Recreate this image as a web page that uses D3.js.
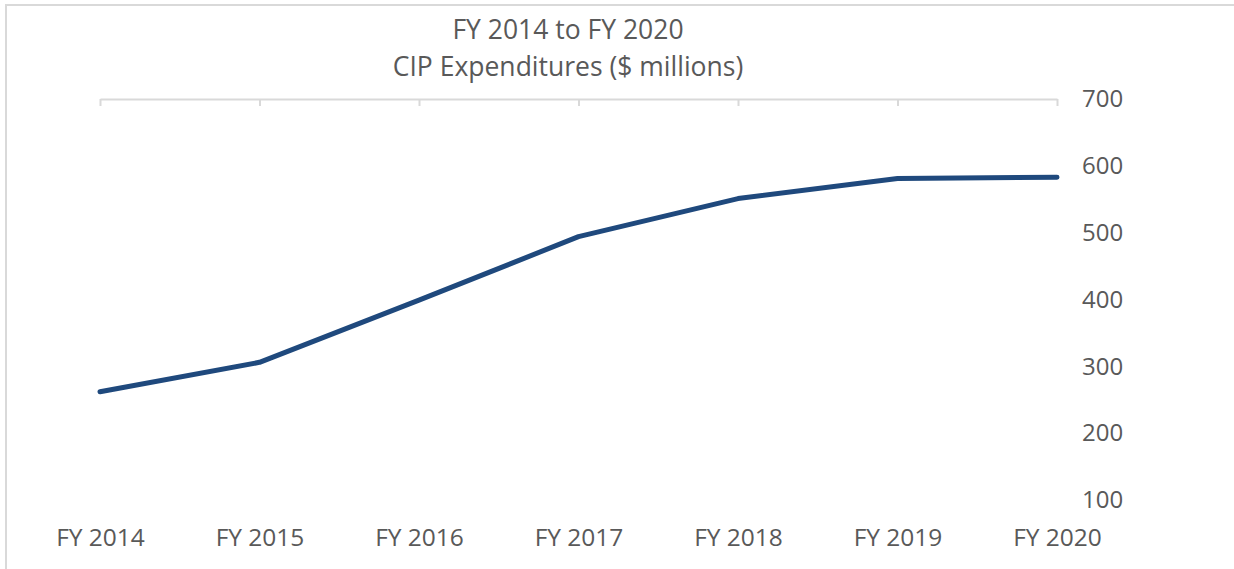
<!DOCTYPE html>
<html>
<head>
<meta charset="utf-8">
<script src="https://cdn.jsdelivr.net/npm/d3@7"></script>
<style>
  html, body { margin: 0; padding: 0; background: #fff; }
  svg { display: block; font-family: "Open Sans", sans-serif; }
</style>
</head>
<body>
<svg id="chart" width="1234" height="569"></svg>
<script>
const categories = ["FY 2014", "FY 2015", "FY 2016", "FY 2017", "FY 2018", "FY 2019", "FY 2020"];
const values = [262, 306, 399, 494, 551, 581, 583];
const yTicks = [100, 200, 300, 400, 500, 600, 700];
const titleLines = ["FY 2014 to FY 2020", "CIP Expenditures ($ millions)"];

const svg = d3.select("#chart");
const textColor = "#595959";
const gridColor = "#d9d9d9";

// outer frame
svg.append("rect")
  .attr("x", 6).attr("y", 5)
  .attr("width", 1400).attr("height", 800)
  .attr("fill", "none").attr("stroke", gridColor).attr("stroke-width", 2);

const x = d3.scalePoint().domain(categories).range([100, 1057]);
const y = d3.scaleLinear().domain([100, 700]).range([500, 99]);

// top category axis line with downward ticks
const topAxis = svg.append("g")
  .attr("transform", `translate(0,${y(700)})`)
  .call(d3.axisBottom(x).tickSize(7).tickSizeOuter(0).tickFormat(""));
topAxis.select(".domain").attr("stroke", gridColor).attr("stroke-width", 2);
topAxis.selectAll(".tick line").attr("stroke", gridColor).attr("stroke-width", 2);

// category labels at bottom
const bottomAxis = svg.append("g")
  .attr("transform", `translate(0,546)`)
  .call(d3.axisBottom(x).tickSize(0).tickPadding(0));
bottomAxis.select(".domain").remove();
bottomAxis.selectAll("text")
  .attr("fill", textColor).attr("font-size", 24.5)
  .attr("font-family", "Open Sans, sans-serif")
  .attr("y", 0)
  .attr("dy", 0);

// right value axis labels
const rightAxis = svg.append("g")
  .attr("transform", `translate(1057,0)`)
  .call(d3.axisRight(y).tickValues(yTicks).tickSize(0).tickPadding(25));
rightAxis.select(".domain").remove();
rightAxis.selectAll("text")
  .attr("fill", textColor).attr("font-size", 24)
  .attr("font-family", "Open Sans, sans-serif");

// line
const line = d3.line()
  .x((d, i) => x(categories[i]))
  .y(d => y(d));
svg.append("path")
  .datum(values)
  .attr("d", line)
  .attr("fill", "none")
  .attr("stroke", "#1f497d")
  .attr("stroke-width", 5)
  .attr("stroke-linejoin", "round")
  .attr("stroke-linecap", "round");

// title
svg.append("g").selectAll("text")
  .data(titleLines)
  .join("text")
  .attr("x", 568)
  .attr("y", (d, i) => 38.5 + i * 37)
  .attr("text-anchor", "middle")
  .attr("fill", textColor)
  .attr("font-size", 26.5)
  .attr("font-family", "Open Sans, sans-serif")
  .text(d => d);
</script>
</body>
</html>
